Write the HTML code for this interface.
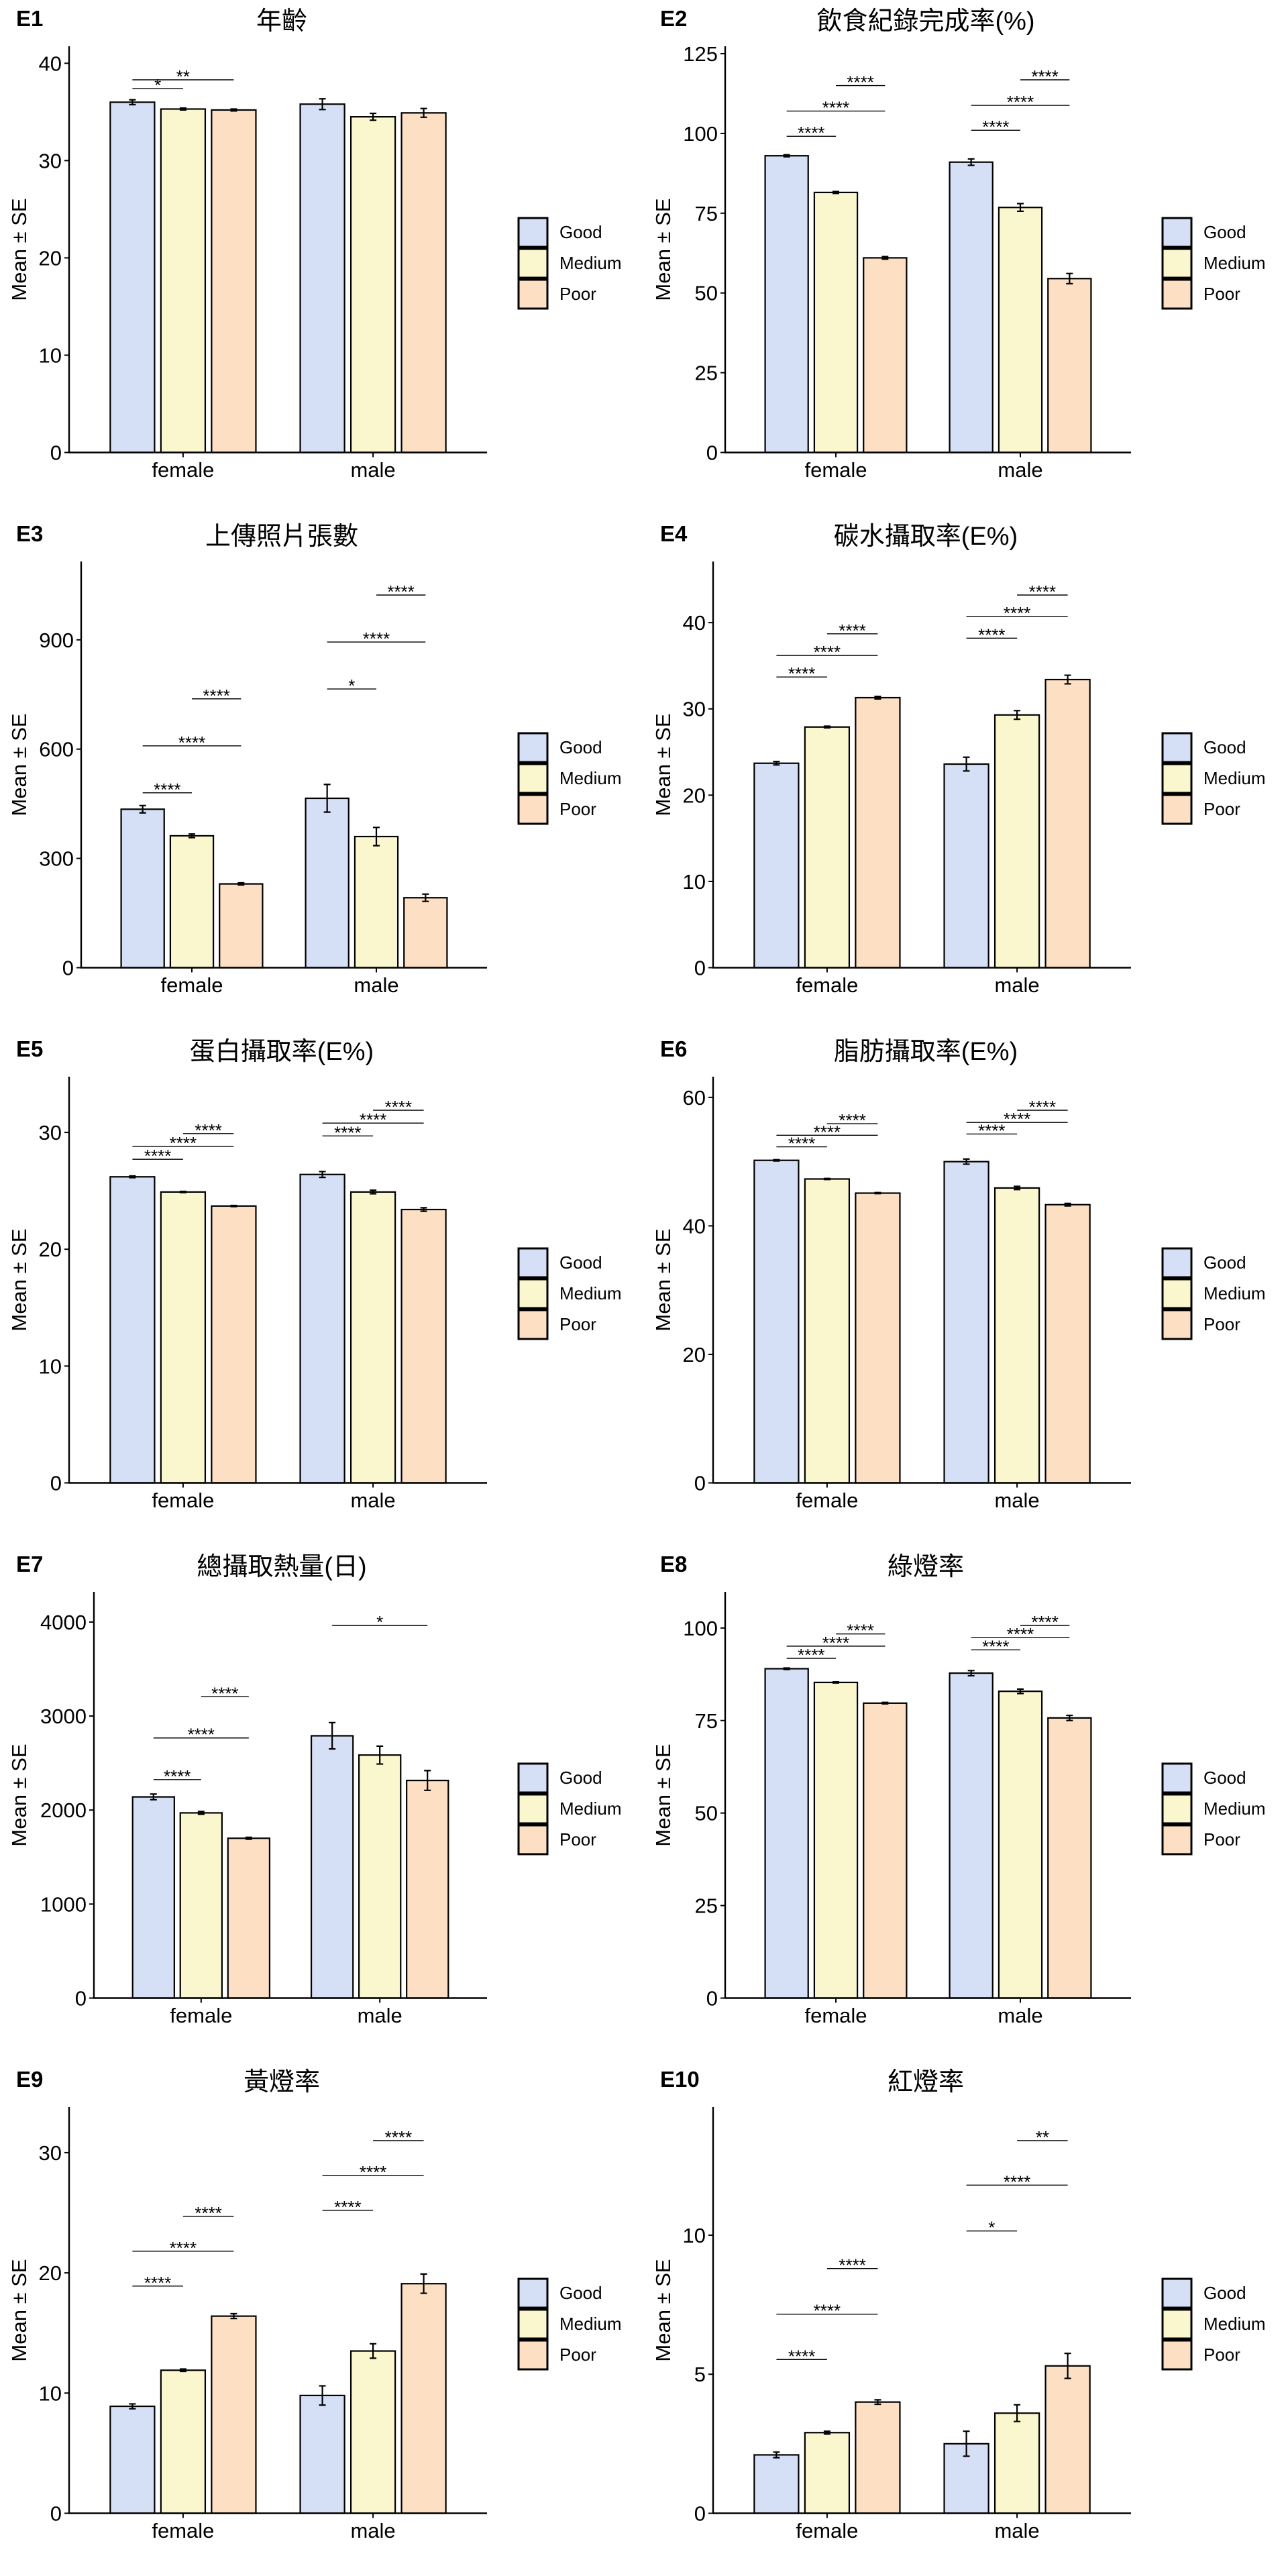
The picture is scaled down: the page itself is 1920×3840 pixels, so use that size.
<!DOCTYPE html>
<html><head><meta charset="utf-8"><title>Grouped bar charts E1–E10</title>
<style>
html,body{margin:0;padding:0;background:#fff;}
svg{display:block;}
text{font-family:"Liberation Sans","Noto Sans CJK TC",sans-serif;fill:#000;}
</style></head>
<body>
<svg id="fig" width="1920" height="3840" viewBox="0 0 1920 3840" xmlns="http://www.w3.org/2000/svg"></svg>
<script>
const groups = ['female','male'];
const levels = ['Good','Medium','Poor'];
const colors = ['#d5dff5','#faf6cd','#fde0c4'];

// E1 年齡
const e1Female = [36.0, 35.3, 35.2];
const e1Male = [35.8, 34.5, 34.9];
const e1FemaleSE = [0.25, 0.1, 0.1];
const e1MaleSE = [0.55, 0.35, 0.45];
const e1Ticks = [0, 10, 20, 30, 40];
const e1SigGroup = [0, 0];
const e1SigFrom = [0, 0];
const e1SigTo = [1, 2];
const e1SigY = [37.4, 38.3];
const e1SigLabel = ['*', '**'];

// E2 飲食紀錄完成率(%)
const e2Female = [93, 81.5, 61];
const e2Male = [91, 76.8, 54.5];
const e2FemaleSE = [0.3, 0.3, 0.4];
const e2MaleSE = [1.0, 1.2, 1.6];
const e2Ticks = [0, 25, 50, 75, 100, 125];
const e2SigGroup = [0, 0, 0, 1, 1, 1];
const e2SigFrom = [0, 0, 1, 0, 0, 1];
const e2SigTo = [1, 2, 2, 1, 2, 2];
const e2SigY = [99.1, 107, 115, 101, 108.8, 116.8];
const e2SigLabel = ['****','****','****','****','****','****'];

// E3 上傳照片張數
const e3Female = [435, 362, 230];
const e3Male = [465, 360, 192];
const e3FemaleSE = [10, 5, 3];
const e3MaleSE = [38, 25, 10];
const e3Ticks = [0, 300, 600, 900];
const e3SigGroup = [0, 0, 0, 1, 1, 1];
const e3SigFrom = [0, 0, 1, 0, 0, 1];
const e3SigTo = [1, 2, 2, 1, 2, 2];
const e3SigY = [480, 609, 738, 765, 894, 1023];
const e3SigLabel = ['****','****','****','*','****','****'];

// E4 碳水攝取率(E%)
const e4Female = [23.7, 27.9, 31.3];
const e4Male = [23.6, 29.3, 33.4];
const e4FemaleSE = [0.2, 0.1, 0.15];
const e4MaleSE = [0.8, 0.5, 0.5];
const e4Ticks = [0, 10, 20, 30, 40];
const e4SigGroup = [0, 0, 0, 1, 1, 1];
const e4SigFrom = [0, 0, 1, 0, 0, 1];
const e4SigTo = [1, 2, 2, 1, 2, 2];
const e4SigY = [33.7, 36.2, 38.7, 38.2, 40.7, 43.2];
const e4SigLabel = ['****','****','****','****','****','****'];

// E5 蛋白攝取率(E%)
const e5Female = [26.2, 24.9, 23.7];
const e5Male = [26.4, 24.9, 23.4];
const e5FemaleSE = [0.07, 0.05, 0.05];
const e5MaleSE = [0.25, 0.15, 0.15];
const e5Ticks = [0, 10, 20, 30];
const e5SigGroup = [0, 0, 0, 1, 1, 1];
const e5SigFrom = [0, 0, 1, 0, 0, 1];
const e5SigTo = [1, 2, 2, 1, 2, 2];
const e5SigY = [27.7, 28.8, 29.9, 29.7, 30.8, 31.9];
const e5SigLabel = ['****','****','****','****','****','****'];

// E6 脂肪攝取率(E%)
const e6Female = [50.2, 47.3, 45.1];
const e6Male = [50.0, 45.9, 43.3];
const e6FemaleSE = [0.1, 0.08, 0.08];
const e6MaleSE = [0.4, 0.25, 0.2];
const e6Ticks = [0, 20, 40, 60];
const e6SigGroup = [0, 0, 0, 1, 1, 1];
const e6SigFrom = [0, 0, 1, 0, 0, 1];
const e6SigTo = [1, 2, 2, 1, 2, 2];
const e6SigY = [52.3, 54.1, 55.9, 54.3, 56.1, 58.0];
const e6SigLabel = ['****','****','****','****','****','****'];

// E7 總攝取熱量(日)
const e7Female = [2140, 1970, 1700];
const e7Male = [2790, 2585, 2315];
const e7FemaleSE = [30, 15, 10];
const e7MaleSE = [140, 95, 105];
const e7Ticks = [0, 1000, 2000, 3000, 4000];
const e7SigGroup = [0, 0, 0, 1];
const e7SigFrom = [0, 0, 1, 0];
const e7SigTo = [1, 2, 2, 2];
const e7SigY = [2324, 2767, 3205, 3964];
const e7SigLabel = ['****','****','****','*'];

// E8 綠燈率
const e8Female = [89, 85.3, 79.7];
const e8Male = [87.8, 82.9, 75.7];
const e8FemaleSE = [0.2, 0.15, 0.2];
const e8MaleSE = [0.7, 0.6, 0.7];
const e8Ticks = [0, 25, 50, 75, 100];
const e8SigGroup = [0, 0, 0, 1, 1, 1];
const e8SigFrom = [0, 0, 1, 0, 0, 1];
const e8SigTo = [1, 2, 2, 1, 2, 2];
const e8SigY = [91.8, 95.1, 98.4, 94.1, 97.4, 100.7];
const e8SigLabel = ['****','****','****','****','****','****'];

// E9 黃燈率
const e9Female = [8.9, 11.9, 16.4];
const e9Male = [9.8, 13.5, 19.1];
const e9FemaleSE = [0.2, 0.1, 0.2];
const e9MaleSE = [0.8, 0.6, 0.8];
const e9Ticks = [0, 10, 20, 30];
const e9SigGroup = [0, 0, 0, 1, 1, 1];
const e9SigFrom = [0, 0, 1, 0, 0, 1];
const e9SigTo = [1, 2, 2, 1, 2, 2];
const e9SigY = [18.9, 21.8, 24.7, 25.2, 28.1, 31.0];
const e9SigLabel = ['****','****','****','****','****','****'];

// E10 紅燈率
const e10Female = [2.1, 2.9, 4.0];
const e10Male = [2.5, 3.6, 5.3];
const e10FemaleSE = [0.1, 0.05, 0.08];
const e10MaleSE = [0.45, 0.3, 0.45];
const e10Ticks = [0, 5, 10];
const e10SigGroup = [0, 0, 0, 1, 1, 1];
const e10SigFrom = [0, 0, 1, 0, 0, 1];
const e10SigTo = [1, 2, 2, 1, 2, 2];
const e10SigY = [5.53, 7.16, 8.8, 10.15, 11.8, 13.4];
const e10SigLabel = ['****','****','****','*','****','**'];

const panels = [
  {id:'E1', title:'年齡', f:e1Female, m:e1Male, fse:e1FemaleSE, mse:e1MaleSE, ticks:e1Ticks, sg:e1SigGroup, sa:e1SigFrom, sb:e1SigTo, sy:e1SigY, sl:e1SigLabel},
  {id:'E2', title:'飲食紀錄完成率(%)', f:e2Female, m:e2Male, fse:e2FemaleSE, mse:e2MaleSE, ticks:e2Ticks, sg:e2SigGroup, sa:e2SigFrom, sb:e2SigTo, sy:e2SigY, sl:e2SigLabel},
  {id:'E3', title:'上傳照片張數', f:e3Female, m:e3Male, fse:e3FemaleSE, mse:e3MaleSE, ticks:e3Ticks, sg:e3SigGroup, sa:e3SigFrom, sb:e3SigTo, sy:e3SigY, sl:e3SigLabel},
  {id:'E4', title:'碳水攝取率(E%)', f:e4Female, m:e4Male, fse:e4FemaleSE, mse:e4MaleSE, ticks:e4Ticks, sg:e4SigGroup, sa:e4SigFrom, sb:e4SigTo, sy:e4SigY, sl:e4SigLabel},
  {id:'E5', title:'蛋白攝取率(E%)', f:e5Female, m:e5Male, fse:e5FemaleSE, mse:e5MaleSE, ticks:e5Ticks, sg:e5SigGroup, sa:e5SigFrom, sb:e5SigTo, sy:e5SigY, sl:e5SigLabel},
  {id:'E6', title:'脂肪攝取率(E%)', f:e6Female, m:e6Male, fse:e6FemaleSE, mse:e6MaleSE, ticks:e6Ticks, sg:e6SigGroup, sa:e6SigFrom, sb:e6SigTo, sy:e6SigY, sl:e6SigLabel},
  {id:'E7', title:'總攝取熱量(日)', f:e7Female, m:e7Male, fse:e7FemaleSE, mse:e7MaleSE, ticks:e7Ticks, sg:e7SigGroup, sa:e7SigFrom, sb:e7SigTo, sy:e7SigY, sl:e7SigLabel},
  {id:'E8', title:'綠燈率', f:e8Female, m:e8Male, fse:e8FemaleSE, mse:e8MaleSE, ticks:e8Ticks, sg:e8SigGroup, sa:e8SigFrom, sb:e8SigTo, sy:e8SigY, sl:e8SigLabel},
  {id:'E9', title:'黃燈率', f:e9Female, m:e9Male, fse:e9FemaleSE, mse:e9MaleSE, ticks:e9Ticks, sg:e9SigGroup, sa:e9SigFrom, sb:e9SigTo, sy:e9SigY, sl:e9SigLabel},
  {id:'E10', title:'紅燈率', f:e10Female, m:e10Male, fse:e10FemaleSE, mse:e10MaleSE, ticks:e10Ticks, sg:e10SigGroup, sa:e10SigFrom, sb:e10SigTo, sy:e10SigY, sl:e10SigLabel}
];

const NS = 'http://www.w3.org/2000/svg';
const svg = document.getElementById('fig');
function mk(tag, attrs, parent) {
  const e = document.createElementNS(NS, tag);
  for (const k in attrs) e.setAttribute(k, attrs[k]);
  parent.appendChild(e);
  return e;
}

panels.forEach((p, pi) => {
  const ox = (pi % 2) * 960, oy = Math.floor(pi / 2) * 768;
  const g = mk('g', {transform: 'translate(' + ox + ',' + oy + ')'}, svg);
  
  

  // y-range: data max incl. sig lines, times expansion
  const maxTick = p.ticks[p.ticks.length - 1];
  const allTop = Math.max(...p.sy, ...p.f.map((v, i) => v + p.fse[i]), ...p.m.map((v, i) => v + p.mse[i]));
  const yMax = allTop * 1.05 + (allTop * 0.04);
  const labW = String(maxTick).length;
  const X0 = labW <= 2 ? 103 : (labW === 3 ? 121 : 140);
  const X1 = 726, YB = 674.5, YT = 69;
  const unit = (X1 - X0) / 2.2;
  const xg = gi => X0 + (0.6 + gi) * unit;
  const y = v => YB - v * (YB - YT) / yMax;
  const dodge = 0.8 * unit / 3, bw = 0.7 * unit / 3;
  const xb = (gi, li) => xg(gi) + (li - 1) * dodge;

  const lab = mk('text', {x: 24, y: 39, 'font-size': 33, 'font-weight': 'bold'}, g);
  
  
  lab.textContent = p.id;

  const tt = mk('text', {x: 420, y: 44, 'font-size': 38, 'text-anchor': 'middle'}, g);
  
  
  tt.textContent = p.title;

  // bars
  [p.f, p.m].forEach((vals, gi) => {
    const ses = gi === 0 ? p.fse : p.mse;
    vals.forEach((v, li) => {
      const r = mk('rect', {x: xb(gi, li) - bw / 2, y: y(v), width: bw, height: YB - y(v), fill: colors[li], stroke: '#000', 'stroke-width': 2.2}, g);
      
      
      const cx = xb(gi, li), lo = y(v - ses[li]), hi = y(v + ses[li]);
      const eb = mk('path', {d: 'M' + (cx - 5) + ',' + hi + 'H' + (cx + 5) + 'M' + cx + ',' + hi + 'V' + lo + 'M' + (cx - 5) + ',' + lo + 'H' + (cx + 5), stroke: '#000', 'stroke-width': 2.2, fill: 'none'}, g);
      
      
    });
  });

  // significance brackets
  p.sy.forEach((sv, si) => {
    const gi = p.sg[si];
    const xa = xb(gi, p.sa[si]), xc = xb(gi, p.sb[si]), yy = y(sv);
    const ln = mk('line', {x1: xa, x2: xc, y1: yy, y2: yy, stroke: '#000', 'stroke-width': 1.4}, g);
    
    
    const st = mk('text', {x: (xa + xc) / 2, y: yy + 4, 'font-size': 26, 'text-anchor': 'middle'}, g);
    
    
    st.textContent = p.sl[si];
  });

  // axes
  const ya = mk('line', {x1: X0, x2: X0, y1: YT, y2: YB + 1, stroke: '#000', 'stroke-width': 2.4}, g);
  
  
  const xa = mk('line', {x1: X0 - 1, x2: X1, y1: YB, y2: YB, stroke: '#000', 'stroke-width': 2.4}, g);
  
  

  p.ticks.forEach(t => {
    const tk = mk('line', {x1: X0 - 7, x2: X0, y1: y(t), y2: y(t), stroke: '#000', 'stroke-width': 2}, g);
    
    
    const tl = mk('text', {x: X0 - 11, y: y(t) + 11, 'font-size': 31, 'text-anchor': 'end'}, g);
    
    
    tl.textContent = t;
  });
  groups.forEach((gname, gi) => {
    const tk = mk('line', {x1: xg(gi), x2: xg(gi), y1: YB, y2: YB + 7, stroke: '#000', 'stroke-width': 2}, g);
    
    
    const tl = mk('text', {x: xg(gi), y: 711, 'font-size': 31, 'text-anchor': 'middle'}, g);
    
    
    tl.textContent = gname;
  });

  const yt = mk('text', {x: 0, y: 0, 'font-size': 31, 'text-anchor': 'middle', transform: 'translate(39,372) rotate(-90)'}, g);
  
  
  yt.textContent = 'Mean ± SE';

  // legend
  const keyY = [325, 371, 417];
  levels.forEach((lv, li) => {
    const k = mk('rect', {x: 773, y: keyY[li], width: 43, height: 43, fill: colors[li], stroke: '#000', 'stroke-width': 3}, g);
    
    
    const lt = mk('text', {x: 834, y: keyY[li] + 30, 'font-size': 26}, g);
    
    
    lt.textContent = lv;
  });
});
</script>
</body></html>
